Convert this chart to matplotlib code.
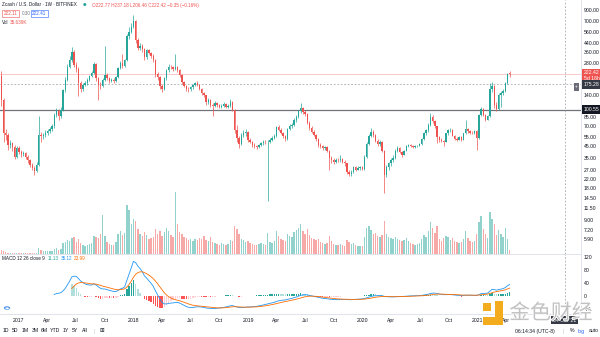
import numpy as np
import pandas as pd
import matplotlib
matplotlib.use("Agg")
import matplotlib.pyplot as plt
import matplotlib.dates as mdates
import matplotlib.transforms as mtransforms
import matplotlib.patheffects as pe
from matplotlib.patches import Rectangle, Circle
from matplotlib.ticker import FixedLocator, FuncFormatter, NullLocator

plt.rcParams['font.family'] = ['Liberation Sans', 'DejaVu Sans']

# weekly ZEC/USD candles (Bitfinex), one entry per week starting Monday
week_start = "2016-10-31"
first_open = 520.0
closes = [
    210, 125, 60, 58, 46, 48, 44, 36, 43, 40,
    38, 39, 36, 33, 30, 28, 26, 30, 58, 56,
    58, 61, 63, 66, 70, 90, 98, 88, 100, 155,
    195, 260, 300, 360, 270, 245, 180, 160, 175, 180,
    195, 210, 225, 275, 200, 175, 170, 195, 215, 200,
    190, 195, 190, 205, 250, 280, 265, 300, 510, 560,
    620, 700, 470, 390, 410, 380, 320, 370, 350, 330,
    300, 220, 205, 170, 160, 200, 240, 260, 255, 245,
    255, 240, 215, 185, 170, 160, 158, 165, 172, 180,
    175, 160, 145, 138, 118, 125, 112, 110, 117, 112,
    108, 110, 113, 108, 110, 120, 100, 64, 54, 47,
    58, 60, 62, 52, 50, 46, 45, 44, 46, 48,
    50, 49, 50, 52, 54, 57, 69, 65, 61, 56,
    53, 66, 70, 72, 80, 86, 97, 104, 96, 92,
    76, 68, 62, 58, 53, 46, 45, 43, 44, 41,
    35, 33, 32, 33.5, 33, 34, 32, 31, 25.5, 24.5,
    25.5, 28.5, 27, 28, 28.3, 27.5, 36, 47, 57, 62,
    58, 51, 47, 50, 41, 24, 28.5, 31, 33, 35,
    41, 43, 40, 37.5, 41, 45, 46, 45.5, 44.5, 45,
    45.5, 47, 53, 60, 64, 72, 86, 78, 70, 55,
    52, 51, 50, 60, 64, 65, 57, 53, 52, 55,
    52, 60, 66, 63, 61, 60, 63, 54, 89, 103,
    90, 81, 88, 160, 170, 112, 102, 140, 145, 152,
    182, 222.77, 222.42,
]
highs = [
    560, 235, 130, 66, 60, 52, 50, 46, 45, 45,
    42, 41, 40, 37, 34, 31, 29, 32, 88, 62,
    61, 64, 66, 69, 74, 93, 104, 103, 106, 160,
    205, 275, 330, 395, 370, 290, 255, 190, 180, 188,
    200, 218, 235, 290, 280, 205, 185, 200, 410, 225,
    205, 202, 200, 212, 258, 295, 340, 310, 530, 620,
    680, 800, 720, 490, 440, 425, 390, 380, 385, 360,
    340, 305, 232, 210, 178, 205, 248, 272, 270, 262,
    345, 262, 245, 220, 190, 175, 166, 170, 178, 186,
    188, 178, 162, 150, 140, 130, 127, 116, 121, 120,
    115, 114, 118, 116, 113, 126, 122, 102, 72, 57,
    61, 64, 66, 63, 54, 51, 48, 46.5, 47.5, 50,
    52, 51.5, 52, 54, 56, 59, 71, 72, 67, 62,
    58, 68, 73, 76, 83, 90, 101, 116, 108, 99,
    94, 78, 70, 64, 59.5, 54, 48, 46.5, 45.5, 45,
    42, 36.5, 34.5, 35, 34.5, 37.5, 35, 33, 31.5, 26.5,
    26.5, 29.5, 29.5, 29, 29.5, 29, 37, 49, 59, 67,
    64, 59, 53, 52, 51, 42, 30, 32, 34.5, 37,
    42.5, 45, 44, 41, 42, 46.5, 47.5, 47, 46.5, 46,
    46.5, 48.5, 54.5, 62, 66, 75, 93, 89, 80, 71,
    57, 54, 52, 61, 66, 68, 66, 58, 55, 56,
    56, 61, 80, 68, 65, 63, 65, 64, 92, 108,
    105, 92, 90, 180, 185, 172, 118, 145, 152, 160,
    186, 226, 237.18,
]
lows = [
    195, 110, 50, 52, 42, 43, 41, 34, 35, 38,
    36, 36.5, 34, 31.5, 28.5, 27, 24, 25.5, 29, 50,
    53, 55, 58, 60, 63, 68, 86, 80, 84, 98,
    150, 190, 250, 290, 255, 230, 135, 150, 152, 170,
    175, 188, 205, 220, 190, 125, 160, 165, 190, 192,
    182, 185, 183, 186, 200, 245, 250, 255, 295, 480,
    540, 600, 440, 370, 375, 360, 300, 310, 340, 315,
    285, 205, 195, 160, 150, 155, 195, 232, 245, 235,
    240, 230, 208, 178, 164, 152, 150, 152, 160, 168,
    170, 155, 140, 132, 112, 114, 106, 88, 106, 108,
    104, 105, 107, 104, 105, 107, 97, 60, 50, 43,
    46, 55, 57, 50, 48, 44.5, 43.5, 42.5, 43, 45,
    46.5, 47, 13.5, 48.5, 50.5, 52.5, 55.5, 63, 59, 54,
    51, 52, 64, 67, 70, 77, 84, 94, 92, 88,
    73, 65, 60, 56, 51, 44.5, 43.5, 41.5, 42, 39.5,
    27, 31.5, 30.5, 31, 32, 32, 31, 29.5, 24.5, 23.5,
    23.5, 25, 26, 26.5, 26.8, 26.5, 27, 35, 46, 55,
    55, 49, 45, 45.5, 39.5, 16, 23, 27, 29.5, 32,
    34, 40, 38.5, 36, 37, 40.5, 44, 44.5, 43.5, 43.8,
    44, 45, 46.5, 52, 58, 62, 70, 75, 68, 48,
    50, 49.5, 45, 49.5, 58, 62, 56, 51.5, 51, 51.5,
    51, 51.5, 59, 61, 59, 58.5, 59, 42, 53, 87,
    87, 79, 79.5, 86, 150, 105, 98, 100, 108, 140,
    148, 178, 206.46,
]
# weekly volume, thousands of ZEC
volumes = [
    60, 45, 30, 20, 15, 12, 10, 12, 15, 10,
    9, 8, 10, 9, 12, 10, 11, 14, 60, 45,
    35, 30, 28, 30, 35, 55, 60, 45, 50, 110,
    120, 140, 130, 160, 170, 120, 150, 110, 90, 80,
    95, 100, 110, 180, 170, 160, 200, 390, 180, 120,
    100, 90, 95, 120, 200, 230, 190, 210, 490, 440,
    300, 350, 330, 250, 200, 180, 220, 190, 150, 160,
    170, 250, 200, 230, 180, 220, 260, 230, 190, 170,
    620, 300, 220, 200, 170, 160, 140, 150, 130, 150,
    140, 160, 150, 180, 140, 130, 170, 120, 110, 100,
    95, 110, 100, 90, 100, 140, 130, 280, 250, 200,
    150, 140, 120, 130, 110, 100, 95, 90, 100, 110,
    100, 95, 210, 120, 110, 130, 230, 180, 150, 140,
    130, 200, 180, 170, 220, 240, 260, 300, 230, 200,
    250, 190, 160, 150, 140, 150, 120, 110, 100, 110,
    180, 130, 100, 90, 95, 100, 90, 85, 140, 120,
    100, 110, 90, 80, 85, 80, 170, 260, 280, 240,
    200, 210, 180, 170, 190, 330, 200, 170, 160, 150,
    170, 150, 140, 130, 140, 160, 130, 110, 100, 95,
    100, 110, 150, 190, 170, 230, 320, 260, 210, 280,
    150, 130, 160, 180, 170, 140, 160, 130, 120, 110,
    120, 150, 230, 160, 130, 120, 130, 200, 320, 380,
    250, 200, 160, 420, 350, 300, 190, 240, 200, 170,
    260, 150, 35.639,
]

bid, spread, ask = 222.11, 0.30, 222.41
level_line = 100.55
crosshair_price = 175.28
crosshair_week = "2021-10-04"
countdown = "5d 16h"

price_ticks = [900, 700, 560, 440, 360, 280, 140, 85, 70, 55, 45, 35, 27,
               22, 18, 14.5, 11.5, 9, 7.2, 5.9]
macd_ticks = [120, 80, 40, 0, -40]

UP, DOWN = '#26a69a', '#ef5350'
VOL_UP, VOL_DOWN = '#92d2cc', '#f7a9a7'
TEXT = '#131722'
BORDER = '#e0e3eb'

W, H = 600, 337


def fx(x):
    return x / W


def fy(y):
    return 1 - y / H


def rect(x0, y0, x1, y1):
    return [x0 / W, 1 - y1 / H, (x1 - x0) / W, (y1 - y0) / H]


def ema(values, n):
    out = np.full(len(values), np.nan)
    k = 2 / (n + 1)
    start = np.argmax(~np.isnan(values))
    out[start + n - 1] = np.mean(values[start:start + n])
    for j in range(start + n, len(values)):
        out[j] = values[j] * k + out[j - 1] * (1 - k)
    return out


closes_a = np.array(closes, dtype=float)
opens_a = np.array([first_open] + closes[:-1], dtype=float)
highs_a = np.array(highs, dtype=float)
lows_a = np.array(lows, dtype=float)
vol_a = np.array(volumes, dtype=float)
dates = pd.date_range(week_start, periods=len(closes), freq='7D')
x = mdates.date2num(dates)
up = closes_a >= opens_a

macd = ema(closes_a, 12) - ema(closes_a, 26)
signal = ema(macd, 9)
hist = macd - signal

fig = plt.figure(figsize=(6, 3.37), dpi=100)
fig.patch.set_facecolor('white')

ax_vol = fig.add_axes(rect(0, 0, 581, 254))
ax = ax_vol.twinx()
ax_macd = fig.add_axes(rect(0, 254, 581, 314), sharex=ax_vol)

week = 7.0
body_w = 0.62 * week

# volume histogram at the foot of the price pane
ax_vol.bar(x, vol_a, width=body_w, color=np.where(up, VOL_UP, VOL_DOWN), linewidth=0)
ax_vol.set_ylim(0, 2540)
ax_vol.set_yticks([])
ax_vol.tick_params(axis='x', bottom=False, labelbottom=False)
for s in ax_vol.spines.values():
    s.set_visible(False)

# candles
colors = np.where(up, UP, DOWN)
ax.vlines(x, lows_a, highs_a, colors=colors, linewidth=0.5, zorder=3)
bottoms = np.minimum(opens_a, closes_a)
heights = np.maximum(np.abs(closes_a - opens_a), bottoms * 0.004)
ax.bar(x, heights, bottom=bottoms, width=body_w, color=colors, linewidth=0, zorder=4)

ax.set_yscale('log')
ax.set_ylim(4.23, 1121)
ax.set_xlim(mdates.date2num(pd.Timestamp('2016-11-02 12:00')),
            mdates.date2num(pd.Timestamp('2021-11-25')))
ax.yaxis.set_major_locator(FixedLocator(price_ticks))
ax.yaxis.set_minor_locator(NullLocator())
ax.yaxis.set_major_formatter(FuncFormatter(lambda v, _: f'{v:.2f}'))
ax.tick_params(axis='y', which='both', length=0, pad=2, labelsize=3.7, labelcolor=TEXT)
ax.tick_params(axis='x', bottom=False, labelbottom=False)
for name, s in ax.spines.items():
    s.set_visible(name == 'right')
ax.spines['right'].set_color(BORDER)
ax.spines['right'].set_linewidth(0.7)

# horizontal level, last price line, crosshair
ax.axhline(level_line, color='#70737d', linewidth=0.9, zorder=2)
ax.axhline(closes_a[-1], color='#f5b3b3', linewidth=0.5, zorder=2)
ax.axhline(crosshair_price, color='#9598a1', linewidth=0.5, linestyle=(0, (2.5, 2.5)), zorder=2)
cross_x = mdates.date2num(pd.Timestamp(crosshair_week))
ax.axvline(cross_x, color='#9598a1', linewidth=0.5, linestyle=(0, (2.5, 2.5)), zorder=2)


def axis_label(axis, value, text, fc, dy=0, va='center'):
    trans = mtransforms.blended_transform_factory(axis.transAxes, axis.transData)
    trans = mtransforms.offset_copy(trans, fig=fig, x=2.5, y=dy, units='dots')
    axis.text(1.0, value, text, transform=trans, ha='left', va=va, fontsize=3.7,
              color='white', linespacing=1.15, clip_on=False, zorder=10,
              bbox=dict(boxstyle='square,pad=0.35', fc=fc, ec='none'))


axis_label(ax, closes_a[-1], f'{closes_a[-1]:.2f}\n{countdown}', DOWN, dy=3.2, va='top')
axis_label(ax, crosshair_price, f'{crosshair_price:.2f}', '#363a45')
axis_label(ax, level_line, f'{level_line:.2f}', '#131722')
fig.text(fx(576.5), fy(87), '+', fontsize=3.6, color='white', ha='center', va='center',
         bbox=dict(boxstyle='square,pad=0.3', fc='#6a6d78', ec='none'))

# MACD pane
valid = ~np.isnan(hist)
hist_colors = []
for j in range(len(hist)):
    prev = hist[j - 1] if j > 0 and not np.isnan(hist[j - 1]) else hist[j]
    if hist[j] >= 0:
        hist_colors.append('#26a69a' if hist[j] > prev else '#b2dfdb')
    else:
        hist_colors.append('#ff5252' if hist[j] < prev else '#ffcdd2')
ax_macd.bar(x[valid], hist[valid], width=body_w,
            color=[c for c, v in zip(hist_colors, valid) if v], linewidth=0)
ax_macd.plot(x, macd, color='#2196f3', linewidth=0.6)
ax_macd.plot(x, signal, color='#ff6d00', linewidth=0.6)
ax_macd.axvline(cross_x, color='#9598a1', linewidth=0.5, linestyle=(0, (2.5, 2.5)))
ax_macd.set_ylim(-55, 128)
ax_macd.yaxis.tick_right()
ax_macd.set_yticks(macd_ticks)
ax_macd.set_yticklabels([str(t) for t in macd_ticks])
ax_macd.tick_params(axis='y', length=0, pad=2, labelsize=3.7, labelcolor=TEXT)
quarter_starts = pd.date_range('2017-01-01', '2021-04-01', freq='QS')
ax_macd.xaxis.set_major_locator(FixedLocator(mdates.date2num(quarter_starts)))
ax_macd.xaxis.set_major_formatter(FuncFormatter(
    lambda v, _: str(mdates.num2date(v).year) if mdates.num2date(v).month == 1
    else mdates.num2date(v).strftime('%b')))
ax_macd.tick_params(axis='x', length=0, pad=3, labelsize=3.7, labelcolor=TEXT)
ax_macd.spines['left'].set_visible(False)
for name in ('top', 'bottom', 'right'):
    ax_macd.spines[name].set_color(BORDER)
    ax_macd.spines[name].set_linewidth(0.7)

# header legend
fs = 3.3
fig.text(fx(2), fy(5), 'Zcash / U.S. Dollar · 1W · BITFINEX', fontsize=fs, color=TEXT, va='center')
fig.text(fx(84.5), fy(5), '●', fontsize=3, color=UP, va='center', ha='center', family='DejaVu Sans')
chg = closes_a[-1] - opens_a[-1]
pct = chg / opens_a[-1] * 100
ohlc = (f'O{opens_a[-1]:.2f} H{highs_a[-1]:.2f} L{lows_a[-1]:.2f} C{closes_a[-1]:.2f} '
        f'{chg:+.2f} ({pct:+.2f}%)').replace('-', '−')
fig.text(fx(92), fy(5), ohlc, fontsize=fs, color=DOWN if chg < 0 else UP, va='center')
fig.text(fx(3.5), fy(13.5), f'{bid:.2f}', fontsize=fs, color=DOWN, va='center',
         bbox=dict(boxstyle='square,pad=0.3', fc='white', ec=DOWN, lw=0.4))
fig.text(fx(21.5), fy(13.5), f'{spread:.2f}', fontsize=fs, color='#787b86', va='center')
fig.text(fx(32), fy(13.5), f'{ask:.2f}', fontsize=fs, color='#2962ff', va='center',
         bbox=dict(boxstyle='square,pad=0.3', fc='white', ec='#2962ff', lw=0.4))
fig.text(fx(2), fy(22), 'Vol', fontsize=fs, color=TEXT, va='center')
fig.text(fx(10), fy(22), f'{vol_a[-1]:.3f}K', fontsize=fs, color=DOWN if chg < 0 else UP, va='center')

# MACD legend
fig.text(fx(2), fy(259), 'MACD 12 26 close 9', fontsize=fs, color=TEXT, va='center')
fig.text(fx(48), fy(259), f'{hist[-1]:.2f}', fontsize=fs, color=hist_colors[-1], va='center')
fig.text(fx(61), fy(259), f'{macd[-1]:.2f}', fontsize=fs, color='#2196f3', va='center')
fig.text(fx(74), fy(259), f'{signal[-1]:.2f}', fontsize=fs, color='#ff6d00', va='center')

fig.add_artist(Circle((fx(7), fy(308)), 3.2 / W, transform=fig.transFigure,
                      fc='#5b9cf2', ec='none'))
fig.text(fx(7), fy(308), '☁', fontsize=3, color='white', ha='center', va='center',
         family='DejaVu Sans')

# crosshair time label
tx = mtransforms.blended_transform_factory(ax_macd.transData, fig.transFigure)
ax_macd.text(cross_x, fy(320), pd.Timestamp(crosshair_week).strftime("%d %b '%y"),
             transform=tx, fontsize=3.7, color='white', ha='center', va='center', clip_on=False,
             bbox=dict(boxstyle='square,pad=0.35', fc='#363a45', ec='none'))

# bottom toolbar
for label, px in [('1D', 6), ('5D', 15), ('1M', 25), ('3M', 35), ('6M', 44), ('YTD', 55),
                  ('1Y', 65.5), ('5Y', 75), ('All', 85)]:
    fig.text(fx(px), fy(331), label, fontsize=3.7, color=TEXT, ha='center', va='center')
fig.text(fx(94), fy(331), '|', fontsize=4, color='#c8cad0', ha='center', va='center')
fig.text(fx(102), fy(331), '⊞', fontsize=4, color=TEXT, ha='center', va='center',
         family='DejaVu Sans')
fig.text(fx(535), fy(331), '06:14:34 (UTC-8)', fontsize=3.7, color=TEXT, ha='center', va='center')
fig.text(fx(563), fy(331), '|', fontsize=4, color='#c8cad0', ha='center', va='center')
fig.text(fx(572), fy(331), '%', fontsize=3.7, color=TEXT, ha='center', va='center')
fig.text(fx(581), fy(331), 'log', fontsize=3.7, color='#2962ff', ha='center', va='center')
fig.text(fx(594), fy(331), 'auto', fontsize=3.7, color=TEXT, ha='center', va='center')

# site watermark
gold = '#f2ac1d'
fig.add_artist(Rectangle((fx(483), fy(311)), 8 / W, 8 / H, transform=fig.transFigure,
                         fc=gold, ec='none'))
fig.add_artist(Rectangle((fx(495), fy(325)), 8 / W, 24 / H, transform=fig.transFigure,
                         fc=gold, ec='none'))
fig.add_artist(Rectangle((fx(483), fy(325)), 20 / W, 8 / H, transform=fig.transFigure,
                         fc=gold, ec='none'))
fig.text(fx(551), fy(313), '金色财经', fontsize=15, color='#c2c2c2', ha='center', va='center',
         family=['Noto Sans CJK SC', 'DejaVu Sans'],
         path_effects=[pe.withStroke(linewidth=1.2, foreground='white')])

fig.savefig('out.png', dpi=100, facecolor='white')
